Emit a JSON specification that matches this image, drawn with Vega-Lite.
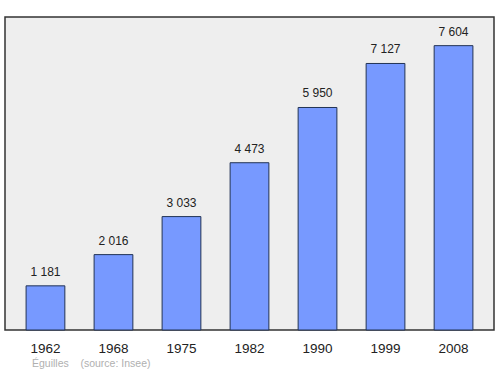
{
  "$schema": "https://vega.github.io/schema/vega-lite/v6.json",
  "autosize": "none",
  "width": 489,
  "height": 313,
  "padding": {"left": 5, "top": 17, "right": 6, "bottom": 44},
  "background": "#ffffff",
  "config": {
    "font": "Liberation Sans",
    "locale": {"number": {"decimal": ",", "thousands": " ", "grouping": [3], "currency": ["", " €"]}},
    "view": {"fill": "#eeeeee", "stroke": "#333333", "strokeWidth": 1.5}
  },
  "title": {
    "text": "Éguilles\u00a0\u00a0\u00a0\u00a0(source: Insee)",
    "orient": "bottom",
    "anchor": "start",
    "dx": 27,
    "offset": 4,
    "fontSize": 10.5,
    "fontWeight": "normal",
    "color": "#b0b0b0",
    "font": "Liberation Sans"
  },
  "data": {
    "values": [
      {"year": "1962", "pop": 1181},
      {"year": "1968", "pop": 2016},
      {"year": "1975", "pop": 3033},
      {"year": "1982", "pop": 4473},
      {"year": "1990", "pop": 5950},
      {"year": "1999", "pop": 7127},
      {"year": "2008", "pop": 7604}
    ]
  },
  "encoding": {
    "x": {
      "field": "year",
      "type": "ordinal",
      "scale": {"paddingInner": 0.43, "paddingOuter": 0.31},
      "axis": {
        "title": null,
        "labelAngle": 0,
        "labelFontSize": 13.5,
        "labelColor": "#222222",
        "labelPadding": 11,
        "ticks": false,
        "domain": false
      }
    },
    "y": {
      "field": "pop",
      "type": "quantitative",
      "scale": {"domain": [0, 8370], "nice": false},
      "axis": null
    }
  },
  "layer": [
    {
      "mark": {"type": "bar", "fill": "#7799ff", "stroke": "#223355", "strokeWidth": 1}
    },
    {
      "mark": {"type": "text", "baseline": "alphabetic", "dy": -10, "fontSize": 12, "color": "#222222"},
      "encoding": {
        "text": {"field": "pop", "type": "quantitative", "format": ",d"}
      }
    }
  ]
}
